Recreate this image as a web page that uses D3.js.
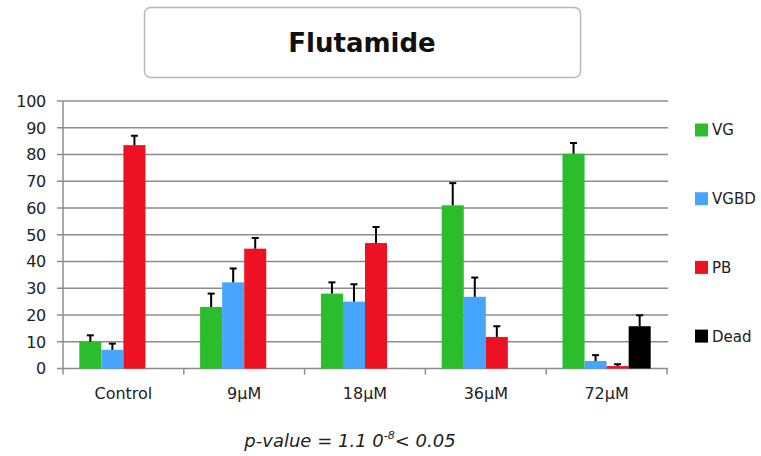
<!DOCTYPE html>
<html>
<head>
<meta charset="utf-8">
<script src="https://cdn.jsdelivr.net/npm/d3@7"></script>
<style>
  body { margin: 0; background: #fff; }
  text { font-family: "DejaVu Sans", sans-serif; fill: #222; }
</style>
</head>
<body>
<div id="chart-area"></div>
<script>
// data
var categories = ["Control", "9µM", "18µM", "36µM", "72µM"];
var series = ["VG", "VGBD", "PB", "Dead"];
var colors = ["#2cbd2c", "#46a5ff", "#ed1124", "#000000"];

var VG = [10, 23, 28, 61, 80.3];
var VGBD = [7, 32.2, 25, 26.8, 2.8];
var PB = [83.5, 44.8, 46.9, 11.8, 0.9];
var Dead = [0, 0, 0, 0, 15.8];

var VG_err = [2.4, 5, 4.2, 8.3, 4];
var VGBD_err = [2.3, 5.2, 6.5, 7.2, 2.2];
var PB_err = [3.5, 4, 6, 4, 0.7];
var Dead_err = [0, 0, 0, 0, 4.1];

var yTicks = [0, 10, 20, 30, 40, 50, 60, 70, 80, 90, 100];

var values = [VG, VGBD, PB, Dead];
var errors = [VG_err, VGBD_err, PB_err, Dead_err];

var width = 761, height = 456;
var plot = {left: 63, right: 667, top: 101, bottom: 368.5};

var svg = d3.select("#chart-area").append("svg")
	.attr("width", width)
	.attr("height", height);

// title box
svg.append("rect")
	.attr("x", 144.5).attr("y", 7.5)
	.attr("width", 436).attr("height", 70)
	.attr("rx", 6)
	.attr("fill", "#fff")
	.attr("stroke", "#b8b8b8")
	.attr("stroke-width", 1.5);

svg.append("text")
	.attr("x", 362).attr("y", 52)
	.attr("text-anchor", "middle")
	.attr("font-size", "26px")
	.attr("font-weight", "bold")
	.style("fill", "#111")
	.text("Flutamide");

var x0 = d3.scaleBand().domain(categories)
	.range([plot.left, plot.right])
	.paddingInner(0.27).paddingOuter(0.135);

var x1 = d3.scaleBand().domain(series)
	.range([0, x0.bandwidth()]);

var y = d3.scaleLinear().domain([0, 100]).range([plot.bottom, plot.top]);

// gridlines + left ticks
svg.append("g").selectAll("line")
	.data(yTicks).enter().append("line")
	.attr("x1", plot.left - 6).attr("x2", plot.right + 1)
	.attr("y1", (d) => y(d)).attr("y2", (d) => y(d))
	.attr("stroke", "#8c8c8c")
	.attr("stroke-width", 1.5);

svg.append("g").selectAll("text")
	.data(yTicks).enter().append("text")
	.attr("x", 46)
	.attr("y", (d) => y(d))
	.attr("dy", "0.36em")
	.attr("text-anchor", "end")
	.attr("font-size", "16px")
	.attr("letter-spacing", "-0.3px")
	.text((d) => d);

// axis lines
svg.append("line")
	.attr("x1", plot.left).attr("x2", plot.left)
	.attr("y1", plot.top).attr("y2", plot.bottom)
	.attr("stroke", "#8c8c8c").attr("stroke-width", 1.5);

var bounds = categories.map((c) => x0(c) - x0.step() * x0.paddingInner() / 2);
bounds.push(plot.right);
svg.append("g").selectAll("line")
	.data(bounds).enter().append("line")
	.attr("x1", (d) => d).attr("x2", (d) => d)
	.attr("y1", plot.bottom).attr("y2", plot.bottom + 6)
	.attr("stroke", "#8c8c8c").attr("stroke-width", 1.5);

// bars
var rows = [];
categories.forEach((c, i) => {
	series.forEach((s, j) => {
		rows.push({cat: c, s: s, j: j, v: values[j][i], e: errors[j][i]});
	});
});
rows = rows.filter((d) => d.v > 0);

svg.append("g").selectAll("rect")
	.data(rows).enter().append("rect")
	.attr("x", (d) => x0(d.cat) + x1(d.s))
	.attr("y", (d) => y(d.v))
	.attr("width", x1.bandwidth())
	.attr("height", (d) => y(0) - y(d.v))
	.attr("fill", (d) => colors[d.j]);

// error bars (upper only)
var err = svg.append("g").selectAll("g")
	.data(rows).enter().append("g")
	.attr("transform", (d) => "translate(" + (x0(d.cat) + x1(d.s) + x1.bandwidth() / 2) + ",0)");

err.append("line")
	.attr("x1", 0).attr("x2", 0)
	.attr("y1", (d) => y(d.v)).attr("y2", (d) => y(d.v + d.e))
	.attr("stroke", "#000").attr("stroke-width", 2);

err.append("line")
	.attr("x1", -3.5).attr("x2", 3.5)
	.attr("y1", (d) => y(d.v + d.e)).attr("y2", (d) => y(d.v + d.e))
	.attr("stroke", "#000").attr("stroke-width", 2);

// category labels
svg.append("g").selectAll("text")
	.data(categories).enter().append("text")
	.attr("x", (d) => x0(d) + x0.bandwidth() / 2)
	.attr("y", 399)
	.attr("text-anchor", "middle")
	.attr("font-size", "16px")
	.text((d) => d);

// legend
var legend = svg.append("g").selectAll("g")
	.data(series).enter().append("g")
	.attr("transform", (d, i) => "translate(695," + (130 + i * 68.7) + ")");

legend.append("rect")
	.attr("x", 0).attr("y", -6.5)
	.attr("width", 13).attr("height", 13)
	.attr("fill", (d, i) => colors[i]);

legend.append("text")
	.attr("x", 17).attr("y", 0)
	.attr("dy", "0.36em")
	.attr("font-size", "15px")
	.text((d) => d);

// p-value note
var note = svg.append("text")
	.attr("x", 350).attr("y", 447)
	.attr("text-anchor", "middle")
	.attr("font-size", "18px")
	.attr("font-style", "italic");
note.append("tspan").text("p-value = 1.1 0");
note.append("tspan").attr("dy", -8).attr("font-size", "11px").text("-8");
note.append("tspan").attr("dy", 8).text("< 0.05");
</script>
</body>
</html>
